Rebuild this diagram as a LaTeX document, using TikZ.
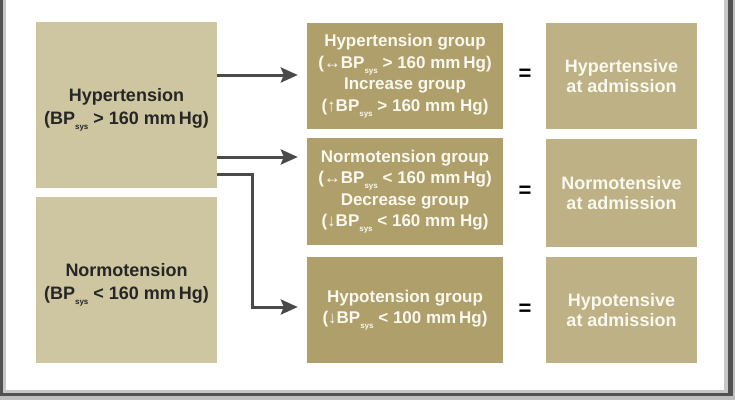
\documentclass[tikz,border=0pt]{standalone}
\usepackage{fontspec}
\setmainfont{Liberation Sans}
\usetikzlibrary{arrows.meta}
\definecolor{lbox}{HTML}{CEC6A0}
\definecolor{mbox}{HTML}{AE9F6B}
\definecolor{rbox}{HTML}{BDB185}
\definecolor{arrowc}{HTML}{4A4A4A}
\definecolor{lighttxt}{HTML}{FBF8EE}
\definecolor{darktxt}{HTML}{262626}
\newcommand{\sysx}{\raisebox{-5pt}{\fontsize{8}{8}\selectfont sys}}
\tikzset{
  box/.style={rectangle, inner sep=0pt, align=center, font=\bfseries\fontsize{17}{21.5}\selectfont},
  lbx/.style={rectangle, inner sep=0pt, fill=lbox, minimum width=181pt, minimum height=166pt},
  ltxt/.style={align=center, inner sep=0pt, text=darktxt, font=\bfseries\fontsize{18}{23}\selectfont},
  mbx/.style={box, fill=mbox, text=lighttxt, minimum width=196pt},
  rbx/.style={box, fill=rbox, text=lighttxt, minimum width=151pt, font=\bfseries\fontsize{18}{20}\selectfont},
  eqs/.style={font=\bfseries\fontsize{22}{22}\selectfont, text=black, inner sep=0pt},
  arr/.style={draw=arrowc, line width=3pt, -{Stealth[length=17pt,width=15pt,inset=3pt]}, shorten >=9pt}
}
\begin{document}
\begin{tikzpicture}[x=1pt,y=-1pt]
\useasboundingbox (0,0) rectangle (735,400);
% frame
\fill[gray!100!black!50] (0,0) rectangle (735,400);
\fill[black!68] (0,-5) rectangle (733,396);
\fill[black!22] (3,-5) rectangle (728,393);
\fill[white] (6,-5) rectangle (724,390);
% left boxes
\node[lbx, label={[ltxt, yshift=-5pt]center:Hypertension\\(BP\sysx\ > 160 mm\,Hg)}] (L1) at (126.5,105) {};
\node[lbx, label={[ltxt, yshift=-5pt]center:Normotension\\(BP\sysx\ < 160 mm\,Hg)}] (L2) at (126.5,280) {};
% middle boxes
\node[mbx, minimum height=106pt] (M1) at (405,76) {Hypertension group\\(↔BP\sysx\ > 160 mm\,Hg)\\Increase group\\(↑BP\sysx\ > 160 mm Hg)};
\node[mbx, minimum height=107pt] (M2) at (405,191.5) {Normotension group\\(↔BP\sysx\ < 160 mm\,Hg)\\Decrease group\\(↓BP\sysx\ < 160 mm Hg)};
\node[mbx, minimum height=106pt] (M3) at (405,310) {Hypotension group\\(↓BP\sysx\ < 100 mm\,Hg)};
% right boxes
\node[rbx, minimum height=106pt] (R1) at (621.5,76) {Hypertensive\\at admission};
\node[rbx, minimum height=108pt] (R2) at (621.5,193) {Normotensive\\at admission};
\node[rbx, minimum height=106pt] (R3) at (621.5,310) {Hypotensive\\at admission};
% equals
\node[eqs] (E1) at (525,75) {=};
\node[eqs] (E2) at (525,192) {=};
\node[eqs] (E3) at (525,310) {=};
% arrows
\coordinate (a1) at (0,75);
\coordinate (a2) at (0,157);
\coordinate (a3) at (0,174);
\coordinate (b3) at (0,307);
\coordinate (k3) at (252,0);
\draw[arr] (L1.east |- a1) -- (M1.west |- a1);
\draw[arr] (L1.east |- a2) -- (M2.west |- a2);
\draw[arr] (L1.east |- a3) -- (k3 |- a3) -- (k3 |- b3) -- (M3.west |- b3);
\end{tikzpicture}
\end{document}
